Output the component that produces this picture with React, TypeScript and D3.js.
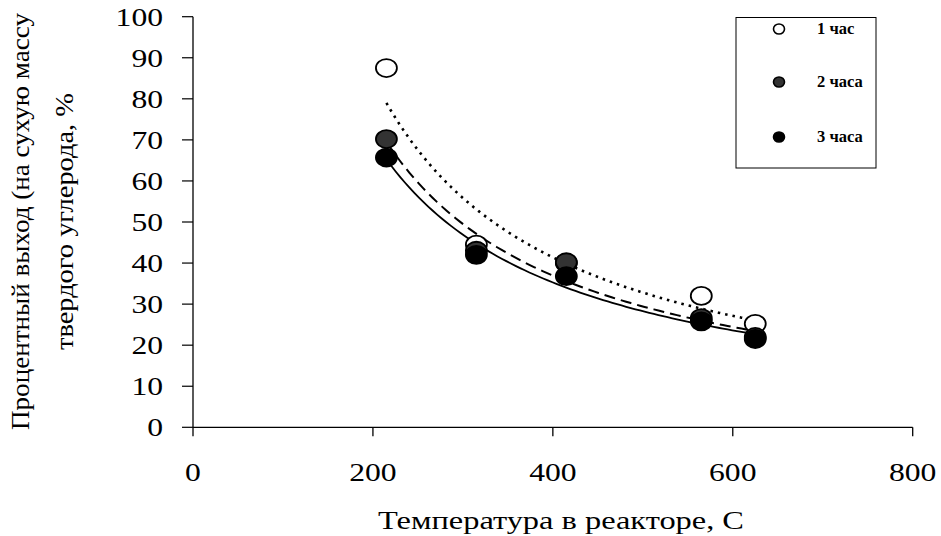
import { useMemo } from "react";
import * as d3 from "d3";

const TEMPS = [215, 315, 415, 565, 625];
const HOUR1 = [87.5, 44.5, 40, 32, 25.2];
const HOUR2 = [70.2, 43, 40.2, 26.6, 22];
const HOUR3 = [65.7, 42, 36.8, 25.8, 21.5];

const X_TICKS = [0, 200, 400, 600, 800];
const Y_TICKS = [0, 10, 20, 30, 40, 50, 60, 70, 80, 90, 100];

const SERIES = [
  { label: "1 час", values: HOUR1, fill: "#fff", dash: "2.5,5", width: 2.6 },
  { label: "2 часа", values: HOUR2, fill: "#333", dash: "11,6", width: 2 },
  { label: "3 часа", values: HOUR3, fill: "#000", dash: null, width: 1.8 },
];

const FONT = "Liberation Serif, Times New Roman, Tinos, DejaVu Serif, serif";

// Excel-style power trendline: ln y = ln a + b ln x
function powerFit(xs: number[], ys: number[]) {
  const lx = xs.map(Math.log);
  const ly = ys.map(Math.log);
  const mx = d3.mean(lx)!;
  const my = d3.mean(ly)!;
  const sxy = d3.sum(lx, (v, i) => (v - mx) * (ly[i] - my));
  const sxx = d3.sum(lx, (v) => (v - mx) ** 2);
  const b = sxy / sxx;
  const a = Math.exp(my - b * mx);
  return (x: number) => a * Math.pow(x, b);
}

export default function App() {
  const width = 941;
  const height = 536;

  const x = d3.scaleLinear().domain([0, 800]).range([193, 912.7]);
  const y = d3.scaleLinear().domain([0, 100]).range([427.3, 16.7]);

  const trends = useMemo(() => {
    const [x0, x1] = d3.extent(TEMPS) as [number, number];
    const samples = d3.range(0, 81).map((i) => x0 + ((x1 - x0) * i) / 80);
    const line = d3.line<[number, number]>().x((d) => x(d[0])).y((d) => y(d[1]));
    return SERIES.map((s) => {
      const f = powerFit(TEMPS, s.values);
      return line(samples.map((t) => [t, f(t)] as [number, number]));
    });
  }, []);

  // stretched serif digits, like the scanned original
  const digitW = 15.8;

  return (
    <svg
      width={width}
      height={height}
      style={{ position: "absolute", left: 0, top: 0, background: "#fff", fontFamily: FONT }}
    >
      {/* axes */}
      <line x1={x(0)} x2={x(800)} y1={y(0)} y2={y(0)} stroke="#000" strokeWidth={1.3} />
      <line x1={x(0)} x2={x(0)} y1={y(0)} y2={y(100)} stroke="#000" strokeWidth={1.3} />

      {Y_TICKS.map((t) => (
        <g key={"y" + t}>
          <line x1={x(0) - 11} x2={x(0)} y1={y(t)} y2={y(t)} stroke="#000" strokeWidth={1.2} />
          <text
            x={163}
            y={y(t) + 9}
            textAnchor="end"
            fontSize={26}
            textLength={String(t).length * digitW}
            lengthAdjust="spacingAndGlyphs"
          >
            {t}
          </text>
        </g>
      ))}

      {X_TICKS.map((t) => (
        <g key={"x" + t}>
          <line x1={x(t)} x2={x(t)} y1={y(0)} y2={y(0) + 9} stroke="#000" strokeWidth={1.3} />
          <text
            x={x(t) - (String(t).length * digitW) / 2}
            y={481}
            fontSize={26}
            textLength={String(t).length * digitW}
            lengthAdjust="spacingAndGlyphs"
          >
            {t}
          </text>
        </g>
      ))}

      {/* axis titles */}
      <text x={378} y={529} fontSize={26} textLength={366} lengthAdjust="spacingAndGlyphs">
        Температура в реакторе, С
      </text>
      <text
        transform="translate(29,430) rotate(-90)"
        fontSize={26}
        textLength={417}
        lengthAdjust="spacingAndGlyphs"
      >
        Процентный выход (на сухую массу
      </text>
      <text
        transform="translate(73,350) rotate(-90)"
        fontSize={26}
        textLength={257}
        lengthAdjust="spacingAndGlyphs"
      >
        твердого углерода, %
      </text>

      {/* trendlines */}
      {SERIES.map((s, i) => (
        <path
          key={"t" + i}
          d={trends[i] ?? ""}
          fill="none"
          stroke="#000"
          strokeWidth={s.width}
          strokeDasharray={s.dash ?? undefined}
        />
      ))}

      {/* markers */}
      {SERIES.map((s, i) => (
        <g key={"m" + i}>
          {s.values.map((v, j) => (
            <ellipse
              key={j}
              cx={x(TEMPS[j])}
              cy={y(v)}
              rx={10.5}
              ry={9}
              fill={s.fill}
              stroke="#000"
              strokeWidth={1.8}
            />
          ))}
        </g>
      ))}

      {/* legend */}
      <rect x={736} y={17.5} width={140} height={150.5} fill="#fff" stroke="#000" strokeWidth={1} />
      {SERIES.map((s, i) => {
        const cy = [29, 82, 137][i];
        return (
          <g key={"l" + i}>
            <ellipse cx={779} cy={cy} rx={5.5} ry={5} fill={s.fill} stroke="#000" strokeWidth={1.6} />
            <text x={817} y={cy + 5} fontSize={16.5} fontWeight="bold">
              {s.label}
            </text>
          </g>
        );
      })}
    </svg>
  );
}
